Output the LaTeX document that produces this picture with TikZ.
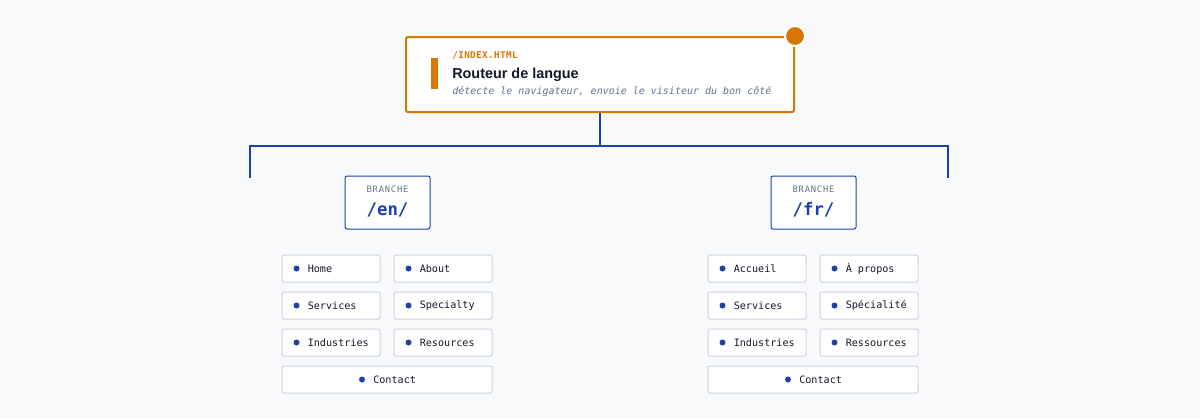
\documentclass[tikz,border=0pt]{standalone}
\usepackage{fontspec}
\setmainfont{Liberation Sans}
\setmonofont{DejaVu Sans Mono}
\newfontfamily\spacedmono[LetterSpace=9]{DejaVu Sans Mono}
\newfontfamily\tagmono[LetterSpace=4]{DejaVu Sans Mono}
\usetikzlibrary{calc}
\definecolor{bgpage}{HTML}{F8F9FB}
\definecolor{routeorange}{HTML}{D97706}
\definecolor{treeblue}{HTML}{1E40AF}
\definecolor{cardline}{HTML}{CBD5E1}
\definecolor{inkdark}{HTML}{111827}
\definecolor{inkgray}{HTML}{64748B}
\tikzset{
	routerbox/.style={draw=routeorange, line width=1.5pt, fill=white, rounded corners=1.5pt, minimum width=291pt, minimum height=56.25pt, inner sep=0pt},
	branchbox/.style={draw=treeblue, line width=0.75pt, fill=white, rounded corners=1.5pt, minimum width=63.75pt, minimum height=39.75pt, inner sep=0pt},
	pagebox/.style={draw=cardline, line width=0.75pt, fill=white, rounded corners=1pt, minimum width=73.5pt, minimum height=20.25pt, inner sep=0pt},
	widebox/.style={pagebox, minimum width=157.5pt},
	trunk/.style={draw=treeblue, line width=1.5pt},
	pagelabel/.style={anchor=west, inner sep=0pt, font=\ttfamily\fontsize{7.6}{9}\selectfont, text=inkdark},
}

\begin{document}
\begin{tikzpicture}[x=0.75pt, y=-0.75pt]
		%%%%% START %%%%%
		\fill[bgpage] (0, 0) rectangle (1200, 418);
		
		\node[routerbox] (router) at (600, 74.5) {};
		\fill[routeorange] (431, 58) rectangle (438, 89);
		\node[anchor=west, inner sep=0pt, text=routeorange, font=\tagmono\bfseries\fontsize{7}{8}\selectfont] (routertag) at (452, 56) {/INDEX.HTML};
		\node[anchor=west, inner sep=0pt, text=inkdark, font=\bfseries\fontsize{10.8}{12}\selectfont] (routertitle) at (452, 74.5) {Routeur de langue};
		\node[anchor=west, inner sep=0pt, text=inkgray, font=\ttfamily\itshape\fontsize{7.5}{9}\selectfont] (routernote) at (452, 92) {détecte le navigateur, envoie le visiteur du bon côté};
		\filldraw[fill=routeorange, draw=white, line width=1.5pt] (router.north east) circle (7.5pt);
		
		\coordinate (split) at (600, 146);
		\coordinate (enleg) at (250, 178);
		\coordinate (frleg) at (948, 178);
		\draw[trunk] (router.south) -- (split);
		\draw[trunk] (enleg) |- (split) -| (frleg);
		
		\node[branchbox] (en) at (387.5, 202.5) {};
		\node[inner sep=0pt, text=inkgray, font=\spacedmono\fontsize{6.6}{7}\selectfont] at (387.5, 189.5) {BRANCHE};
		\node[inner sep=0pt, text=treeblue, font=\ttfamily\bfseries\fontsize{13}{14}\selectfont] at (387.5, 209.5) {/en/};
		
		\node[branchbox] (fr) at (813.5, 202.5) {};
		\node[inner sep=0pt, text=inkgray, font=\spacedmono\fontsize{6.6}{7}\selectfont] at (813.5, 189.5) {BRANCHE};
		\node[inner sep=0pt, text=treeblue, font=\ttfamily\bfseries\fontsize{13}{14}\selectfont] at (813.5, 209.5) {/fr/};
		
		\foreach \tag/\px/\py/\lbl in {home/331/268.5/Home, about/443/268.5/About, services/331/305.5/Services, specialty/443/305.5/Specialty, industries/331/342.5/Industries, resources/443/342.5/Resources} {
			\node[pagebox] (en-\tag) at (\px, \py) {};
			\fill[treeblue] ($(en-\tag.west)+(15, 0)$) circle (2.25pt);
			\node[pagelabel] at ($(en-\tag.west)+(26, 0)$) {\lbl};
		}
		\node[widebox] (en-contact) at (387, 379.5) {};
		\fill[treeblue] ($(en-contact.center)+(-25, 0)$) circle (2.25pt);
		\node[pagelabel] at ($(en-contact.center)+(-14, 0)$) {Contact};
		
		\foreach \tag/\px/\py/\lbl in {accueil/757/268.5/Accueil, apropos/869/268.5/À propos, services/757/305.5/Services, specialite/869/305.5/Spécialité, industries/757/342.5/Industries, ressources/869/342.5/Ressources} {
			\node[pagebox] (fr-\tag) at (\px, \py) {};
			\fill[treeblue] ($(fr-\tag.west)+(15, 0)$) circle (2.25pt);
			\node[pagelabel] at ($(fr-\tag.west)+(26, 0)$) {\lbl};
		}
		\node[widebox] (fr-contact) at (813, 379.5) {};
		\fill[treeblue] ($(fr-contact.center)+(-25, 0)$) circle (2.25pt);
		\node[pagelabel] at ($(fr-contact.center)+(-14, 0)$) {Contact};
		%%%%% END %%%%%
\end{tikzpicture}
\end{document}
